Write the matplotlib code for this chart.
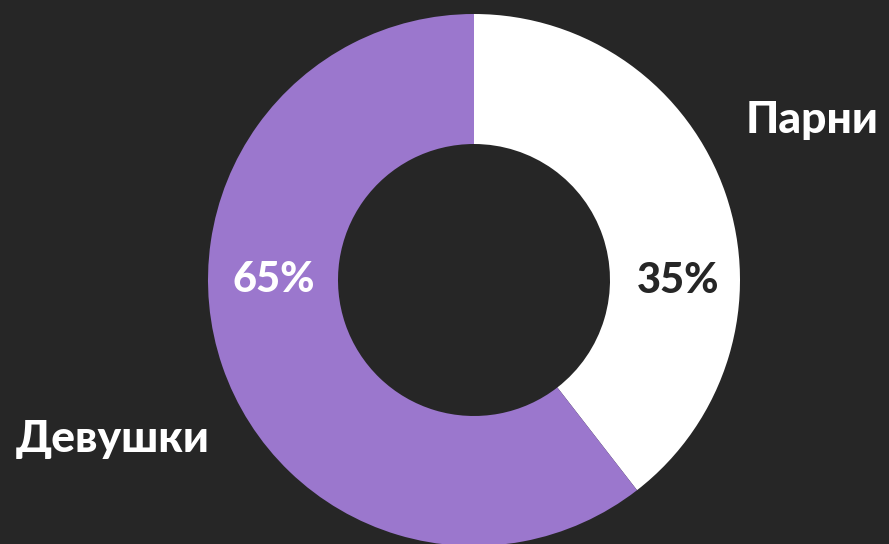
import matplotlib
matplotlib.use("Agg")
from matplotlib import pyplot as plt

# доли по кольцу и подписи
labels = ["Парни", "Девушки"]
shares = [39.5, 60.5]
pct_labels = ["35%", "65%"]
colors = ["#ffffff", "#9b77cd"]
bg = "#262626"

plt.rcParams['font.family'] = ['Lato', 'DejaVu Sans']

fig = plt.figure(figsize=(8.89, 5.44), dpi=100, facecolor=bg)
ax = fig.add_axes([0, 0, 1, 1])
ax.set_facecolor(bg)

ax.pie(shares, colors=colors, startangle=90, counterclock=False,
       center=(474, 264), radius=266, frame=True,
       wedgeprops=dict(width=130, linewidth=0))
ax.set_xlim(0, 889)
ax.set_ylim(0, 544)
ax.set_aspect("equal")
ax.axis("off")

# проценты внутри кольца
ax.text(678, 251, pct_labels[0], color=bg, fontsize=30, fontweight="black",
        ha="center", va="baseline")
ax.text(274, 252, pct_labels[1], color="white", fontsize=30, fontweight="black",
        ha="center", va="baseline")

# названия
ax.text(812, 411, labels[0], color="white", fontsize=32, fontweight="black",
        ha="center", va="baseline")
ax.text(113, 92, labels[1], color="white", fontsize=32, fontweight="black",
        ha="center", va="baseline")

fig.savefig("out.png", dpi=100, facecolor=bg)
